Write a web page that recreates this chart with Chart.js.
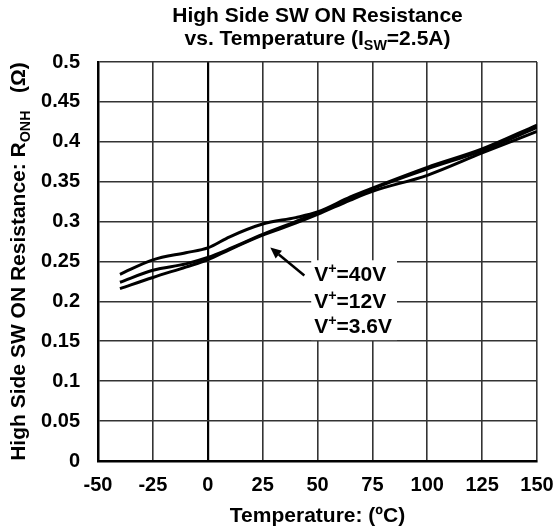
<!DOCTYPE html>
<html><head><meta charset="utf-8">
<script src="https://cdn.jsdelivr.net/npm/chart.js@4/dist/chart.umd.min.js"></script>
<style>html,body{margin:0;padding:0;background:#fff}canvas{display:block}</style>
</head><body>
<canvas id="c" width="555" height="532"></canvas>
<script>
// ---- data ----
const temps = [-40, -25, -10, 0, 10, 25, 40, 50, 65, 75, 100, 125, 150];
const r40V  = [0.234, 0.252, 0.261, 0.267, 0.281, 0.297, 0.305, 0.312, 0.331, 0.342, 0.368, 0.391, 0.421];
const r12V  = [0.224, 0.239, 0.247, 0.255, 0.266, 0.284, 0.300, 0.311, 0.329, 0.341, 0.366, 0.389, 0.418];
const r3V6  = [0.216, 0.230, 0.243, 0.252, 0.265, 0.283, 0.298, 0.309, 0.327, 0.338, 0.358, 0.386, 0.413];
const seriesNames = ['V+=40V', 'V+=12V', 'V+=3.6V'];
const xTickLabels = ['-50', '-25', '0', '25', '50', '75', '100', '125', '150'];
const yTickLabels = ['0', '0.05', '0.1', '0.15', '0.2', '0.25', '0.3', '0.35', '0.4', '0.45', '0.5'];
// annotation anchors (data coordinates)
const labelAnchorT = 48.5;
const labelAnchorR = [0.234, 0.200, 0.169];
const arrowFrom = [44, 0.2325];
const arrowTo = [28.5, 0.2675];

const FONT = "'Liberation Sans', Arial, sans-serif";
const toPts = arr => arr.map((v, i) => ({x: temps[i], y: v}));

function richWidth(ctx, segs, size) {
  let w = 0;
  for (const s of segs) {
    const fs = (s.sub || s.sup) ? size * 0.68 : size;
    ctx.font = `bold ${fs}px ${FONT}`;
    w += ctx.measureText(s.t).width;
  }
  return w;
}
function drawRich(ctx, segs, x, y, size, align) {
  const w = richWidth(ctx, segs, size);
  let cx = align === 'center' ? x - w / 2 : (align === 'right' ? x - w : x);
  ctx.textBaseline = 'alphabetic';
  ctx.textAlign = 'left';
  for (const s of segs) {
    const fs = (s.sub || s.sup) ? size * 0.68 : size;
    ctx.font = `bold ${fs}px ${FONT}`;
    let dy = 0;
    if (s.sub) dy = size * 0.22;
    if (s.sup) dy = -size * 0.38;
    ctx.fillText(s.t, cx, y + dy);
    cx += ctx.measureText(s.t).width;
  }
}

const textPlugin = {
  id: 'textPlugin',
  afterDraw(chart) {
    const ctx = chart.ctx;
    const a = chart.chartArea;
    const xs = chart.scales.x, ys = chart.scales.y;
    ctx.save();
    ctx.fillStyle = '#000';
    const cx = (a.left + a.right) / 2;
    // title
    drawRich(ctx, [{t: 'High Side SW ON Resistance'}], cx, a.top - 40, 21, 'center');
    drawRich(ctx, [{t: 'vs. Temperature (I'}, {t: 'SW', sub: true}, {t: '=2.5A)'}], cx, a.top - 17, 21, 'center');
    // x axis title
    drawRich(ctx, [{t: 'Temperature: (ºC)'}], cx, a.bottom + 61, 21, 'center');
    // y axis title
    ctx.save();
    ctx.translate(25, (a.top + a.bottom) / 2);
    ctx.rotate(-Math.PI / 2);
    drawRich(ctx, [{t: 'High Side SW ON Resistance: R'}, {t: 'ONH', sub: true}, {t: '   (Ω)'}], 0, 0, 21, 'center');
    ctx.restore();

    // annotation box + labels
    const lx = xs.getPixelForValue(labelAnchorT);
    const ly = labelAnchorR.map(v => ys.getPixelForValue(v));
    const segsList = seriesNames.map(n => {
      const rest = n.slice(2);
      return [{t: 'V'}, {t: '+', sup: true}, {t: rest}];
    });
    let maxW = 0;
    segsList.forEach(s => { maxW = Math.max(maxW, richWidth(ctx, s, 21)); });
    ctx.fillStyle = '#fff';
    ctx.fillRect(lx - 3, ly[0] - 14, maxW + 8, ly[2] - ly[0] + 28);
    ctx.fillStyle = '#000';
    segsList.forEach((s, i) => drawRich(ctx, s, lx, ly[i] + 7, 21, 'left'));

    // arrow
    const x1 = xs.getPixelForValue(arrowFrom[0]), y1 = ys.getPixelForValue(arrowFrom[1]);
    const x2 = xs.getPixelForValue(arrowTo[0]), y2 = ys.getPixelForValue(arrowTo[1]);
    const ang = Math.atan2(y2 - y1, x2 - x1);
    const hl = 11, hw = 5;
    const bx = x2 - hl * Math.cos(ang), by = y2 - hl * Math.sin(ang);
    ctx.strokeStyle = '#000';
    ctx.lineWidth = 2.5;
    ctx.beginPath(); ctx.moveTo(x1, y1); ctx.lineTo(bx, by); ctx.stroke();
    ctx.beginPath();
    ctx.moveTo(x2, y2);
    ctx.lineTo(bx + hw * Math.sin(ang), by - hw * Math.cos(ang));
    ctx.lineTo(bx - hw * Math.sin(ang), by + hw * Math.cos(ang));
    ctx.closePath(); ctx.fill();
    ctx.restore();
  }
};

const mkDs = (label, vals) => ({
  label, data: toPts(vals), borderColor: '#000', borderWidth: 3,
  pointRadius: 0, fill: false, cubicInterpolationMode: 'monotone'
});

new Chart(document.getElementById('c'), {
  type: 'line',
  data: { datasets: [mkDs(seriesNames[0], r40V), mkDs(seriesNames[1], r12V), mkDs(seriesNames[2], r3V6)] },
  options: {
    responsive: false, animation: false, devicePixelRatio: 1,
    layout: { padding: { top: 62, right: 0, left: 0, bottom: 0 } },
    plugins: { legend: { display: false }, title: { display: false }, tooltip: { enabled: false } },
    scales: {
      x: {
        type: 'linear', min: -50, max: 150,
        afterFit: s => { s.height = 71; s.paddingRight = 18; s.paddingLeft = 0; },
        afterBuildTicks: s => { s.ticks = xTickLabels.map(v => ({value: Number(v)})); },
        ticks: { callback: (v, i) => xTickLabels[i], color: '#000', padding: 12,
                 font: { family: FONT, size: 20, weight: 'bold' }, maxRotation: 0, autoSkip: false },
        grid: { color: c => c.tick && c.tick.value === 0 ? '#000' : '#333',
                lineWidth: c => c.tick && c.tick.value === 0 ? 2.2 : 1.6, drawTicks: false },
        border: { color: '#000', width: 2.5 }
      },
      y: {
        type: 'linear', min: 0, max: 0.5,
        afterFit: s => { s.width = 98; },
        afterBuildTicks: s => { s.ticks = yTickLabels.map(v => ({value: Number(v)})); },
        ticks: { callback: (v, i) => yTickLabels[i], color: '#000', padding: 18,
                 font: { family: FONT, size: 20, weight: 'bold' }, autoSkip: false },
        grid: { color: '#333', lineWidth: 1.6, drawTicks: false },
        border: { color: '#000', width: 2.5 }
      }
    }
  },
  plugins: [textPlugin]
});
</script>
</body></html>
